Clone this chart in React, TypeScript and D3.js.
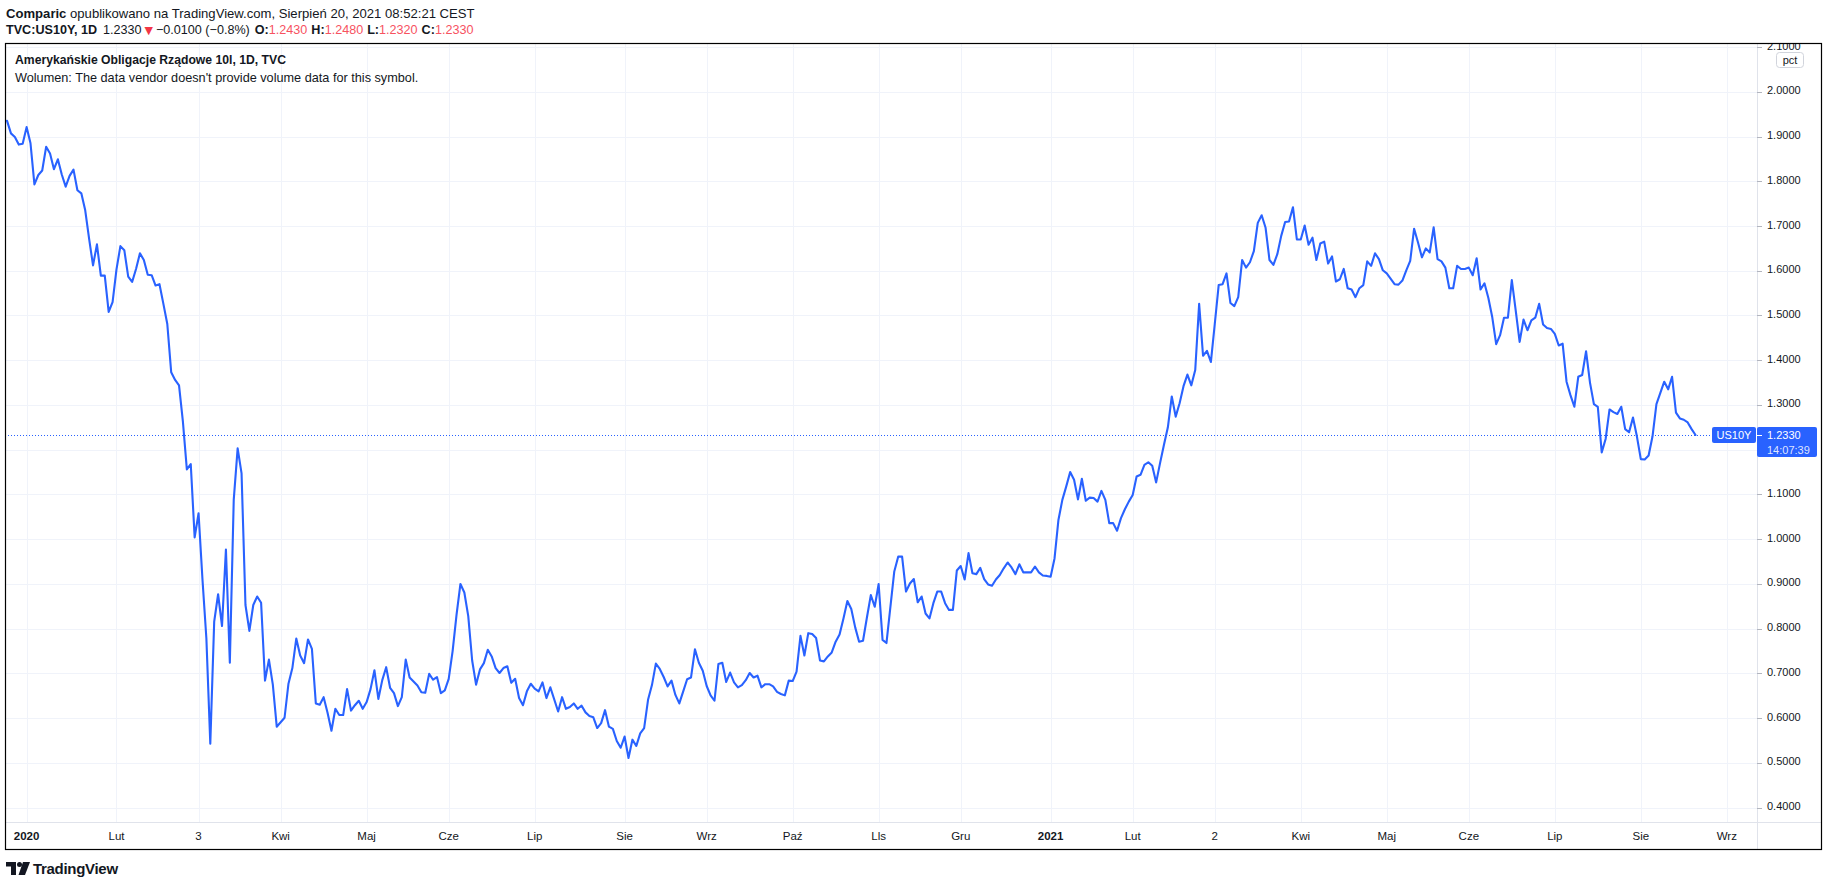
import React from 'react';
import * as d3 from 'd3';

// ---------- data ----------
// Session numbers count trading weekdays from Monday 23 Dec 2019 (session 0).
const FIRST_SESSION = '2019-12-23';

// [session, US10Y close in %]
const SERIES: [number, number][] = [
  [2, 1.935], [3, 1.907], [4, 1.899], [5, 1.882], [6, 1.884], [7, 1.921], [8, 1.885], [9, 1.793],
  [10, 1.814], [11, 1.824], [12, 1.877], [13, 1.862], [14, 1.827], [15, 1.849], [16, 1.815], [17, 1.788],
  [18, 1.812], [19, 1.826], [20, 1.78], [21, 1.773], [22, 1.735], [23, 1.671], [24, 1.612], [25, 1.659],
  [26, 1.589], [27, 1.589], [28, 1.508], [29, 1.53], [30, 1.603], [31, 1.655], [32, 1.646], [33, 1.587],
  [34, 1.575], [35, 1.604], [36, 1.639], [37, 1.624], [38, 1.591], [39, 1.59], [40, 1.567], [41, 1.57],
  [42, 1.526], [43, 1.481], [44, 1.373], [45, 1.356], [46, 1.344], [47, 1.262], [48, 1.156], [49, 1.168],
  [50, 1.004], [51, 1.058], [52, 0.91], [53, 0.778], [54, 0.543], [55, 0.816], [56, 0.877], [57, 0.806],
  [58, 0.977], [59, 0.724], [60, 1.088], [61, 1.203], [62, 1.147], [63, 0.853], [64, 0.795], [65, 0.853],
  [66, 0.872], [67, 0.858], [68, 0.684], [69, 0.731], [70, 0.675], [71, 0.581], [73, 0.601], [74, 0.677],
  [75, 0.712], [76, 0.778], [77, 0.74], [78, 0.723], [79, 0.776], [80, 0.755], [81, 0.633], [82, 0.63],
  [83, 0.647], [84, 0.612], [85, 0.572], [86, 0.621], [87, 0.607], [88, 0.607], [89, 0.665], [90, 0.617],
  [91, 0.629], [92, 0.639], [93, 0.621], [94, 0.636], [95, 0.665], [96, 0.707], [97, 0.643], [98, 0.685],
  [99, 0.714], [100, 0.668], [101, 0.656], [102, 0.627], [103, 0.647], [104, 0.731], [105, 0.691], [106, 0.682],
  [107, 0.673], [108, 0.658], [109, 0.657], [110, 0.699], [111, 0.686], [112, 0.692], [113, 0.656], [114, 0.662],
  [115, 0.688], [116, 0.75], [117, 0.831], [118, 0.9], [119, 0.881], [120, 0.828], [121, 0.729], [122, 0.675],
  [123, 0.709], [124, 0.723], [125, 0.753], [126, 0.738], [127, 0.712], [128, 0.701], [129, 0.712], [130, 0.716],
  [131, 0.679], [132, 0.688], [133, 0.645], [134, 0.629], [135, 0.66], [136, 0.677], [137, 0.666], [138, 0.66],
  [139, 0.68], [140, 0.645], [141, 0.669], [143, 0.615], [144, 0.647], [145, 0.621], [146, 0.625], [147, 0.633],
  [148, 0.621], [149, 0.628], [150, 0.613], [151, 0.605], [152, 0.602], [153, 0.578], [154, 0.589], [155, 0.618],
  [156, 0.581], [157, 0.576], [158, 0.549], [159, 0.534], [160, 0.559], [161, 0.511], [162, 0.552], [163, 0.538],
  [164, 0.566], [165, 0.578], [166, 0.641], [167, 0.674], [168, 0.722], [169, 0.71], [170, 0.692], [171, 0.671],
  [172, 0.684], [173, 0.652], [174, 0.633], [175, 0.66], [176, 0.687], [177, 0.691], [178, 0.754], [179, 0.724],
  [180, 0.706], [181, 0.672], [182, 0.651], [183, 0.639], [184, 0.721], [185, 0.724], [186, 0.681], [187, 0.702],
  [188, 0.68], [189, 0.669], [190, 0.674], [191, 0.685], [192, 0.701], [193, 0.691], [194, 0.695], [195, 0.669],
  [196, 0.676], [197, 0.676], [198, 0.671], [199, 0.659], [200, 0.654], [201, 0.651], [202, 0.684], [203, 0.683],
  [204, 0.704], [205, 0.784], [206, 0.74], [207, 0.79], [208, 0.788], [209, 0.779], [210, 0.729], [211, 0.727],
  [212, 0.738], [213, 0.747], [214, 0.771], [215, 0.787], [216, 0.823], [217, 0.862], [218, 0.844], [219, 0.803],
  [220, 0.771], [221, 0.773], [222, 0.825], [223, 0.875], [224, 0.849], [225, 0.9], [226, 0.775], [227, 0.768],
  [229, 0.928], [230, 0.961], [231, 0.961], [232, 0.883], [233, 0.901], [234, 0.911], [235, 0.859], [236, 0.872],
  [237, 0.834], [238, 0.823], [239, 0.857], [240, 0.883], [241, 0.883], [242, 0.857], [243, 0.842], [244, 0.842],
  [245, 0.93], [246, 0.94], [247, 0.91], [248, 0.969], [249, 0.924], [250, 0.922], [251, 0.936], [252, 0.911],
  [253, 0.899], [254, 0.896], [255, 0.91], [256, 0.92], [257, 0.935], [258, 0.948], [259, 0.937], [260, 0.922],
  [261, 0.944], [262, 0.926], [263, 0.926], [264, 0.926], [265, 0.939], [266, 0.926], [267, 0.919], [268, 0.918],
  [269, 0.916], [270, 0.957], [271, 1.043], [272, 1.088], [273, 1.118], [274, 1.15], [275, 1.133], [276, 1.089],
  [277, 1.135], [278, 1.086], [279, 1.093], [280, 1.092], [281, 1.084], [282, 1.108], [283, 1.088], [284, 1.036],
  [285, 1.036], [286, 1.019], [287, 1.047], [288, 1.067], [289, 1.084], [290, 1.099], [291, 1.14], [292, 1.144],
  [293, 1.166], [294, 1.172], [295, 1.164], [296, 1.127], [297, 1.17], [298, 1.211], [299, 1.25], [300, 1.319],
  [301, 1.274], [302, 1.304], [303, 1.342], [304, 1.368], [305, 1.344], [306, 1.378], [307, 1.526], [308, 1.41],
  [309, 1.421], [310, 1.396], [311, 1.481], [312, 1.568], [313, 1.57], [314, 1.594], [315, 1.528], [316, 1.521],
  [317, 1.541], [318, 1.624], [319, 1.607], [320, 1.619], [321, 1.644], [322, 1.707], [323, 1.724], [324, 1.696],
  [325, 1.624], [326, 1.613], [327, 1.637], [328, 1.678], [329, 1.709], [330, 1.71], [331, 1.742], [332, 1.67],
  [333, 1.67], [334, 1.701], [335, 1.658], [336, 1.674], [337, 1.624], [338, 1.661], [339, 1.665], [340, 1.616],
  [341, 1.632], [342, 1.576], [343, 1.581], [344, 1.604], [345, 1.561], [346, 1.558], [347, 1.541], [348, 1.561],
  [349, 1.568], [350, 1.621], [351, 1.611], [352, 1.639], [353, 1.626], [354, 1.601], [355, 1.594], [357, 1.57],
  [358, 1.569], [359, 1.578], [360, 1.601], [361, 1.622], [362, 1.694], [363, 1.663], [364, 1.63], [365, 1.65],
  [366, 1.641], [367, 1.697], [368, 1.626], [369, 1.621], [370, 1.607], [371, 1.561], [372, 1.561], [373, 1.611],
  [374, 1.604], [375, 1.604], [376, 1.607], [377, 1.59], [378, 1.628], [379, 1.558], [380, 1.572], [381, 1.539],
  [382, 1.496], [383, 1.436], [384, 1.456], [385, 1.495], [386, 1.495], [387, 1.579], [388, 1.511], [389, 1.441],
  [390, 1.491], [391, 1.467], [392, 1.489], [393, 1.495], [394, 1.526], [395, 1.48], [396, 1.472], [397, 1.47],
  [398, 1.459], [399, 1.433], [400, 1.437], [401, 1.352], [402, 1.322], [403, 1.296], [404, 1.363], [405, 1.367],
  [406, 1.42], [407, 1.35], [408, 1.302], [409, 1.296], [410, 1.194], [411, 1.224], [412, 1.29], [413, 1.284],
  [414, 1.28], [415, 1.296], [416, 1.246], [417, 1.239], [418, 1.272], [419, 1.23], [420, 1.179], [421, 1.178],
  [422, 1.187], [423, 1.23], [424, 1.302], [425, 1.327], [426, 1.352], [427, 1.335], [428, 1.363], [429, 1.283],
  [430, 1.27], [431, 1.267], [432, 1.261], [433, 1.246], [434, 1.233],
];

const PRICE_TICKS = [0.4, 0.5, 0.6, 0.7, 0.8, 0.9, 1.0, 1.1, 1.2, 1.3, 1.4, 1.5, 1.6, 1.7, 1.8, 1.9, 2.0, 2.1];

const TIME_TICK_DATES = [
  '2020-01-01', '2020-02-01', '2020-03-03', '2020-04-01', '2020-05-01', '2020-06-01', '2020-07-01',
  '2020-08-01', '2020-09-01', '2020-10-01', '2020-11-01', '2020-12-01', '2021-01-01', '2021-02-01',
  '2021-03-02', '2021-04-01', '2021-05-01', '2021-06-01', '2021-07-01', '2021-08-01', '2021-09-01',
];
const TIME_TICK_LABELS = [
  '2020', 'Lut', '3', 'Kwi', 'Maj', 'Cze', 'Lip', 'Sie', 'Wrz', 'Paź', 'Lls', 'Gru',
  '2021', 'Lut', '2', 'Kwi', 'Maj', 'Cze', 'Lip', 'Sie', 'Wrz',
];

const LAST_VALUE = 1.233;
const SYMBOL = 'US10Y';
const COUNTDOWN = '14:07:39';
const HEADER_AUTHOR = 'Comparic';
const HEADER_REST = ' opublikowano na TradingView.com, Sierpień 20, 2021 08:52:21 CEST';
const LEGEND_TITLE = 'Amerykańskie Obligacje Rządowe 10l, 1D, TVC';
const LEGEND_VOLUME = "Wolumen: The data vendor doesn't provide volume data for this symbol.";
const OHLC: [string, string][] = [['O:', '1.2430'], ['H:', '1.2480'], ['L:', '1.2320'], ['C:', '1.2330']];

// ---------- helpers ----------
function sessionDates(count: number): Date[] {
  const out: Date[] = [];
  const d = new Date(FIRST_SESSION + 'T00:00:00Z');
  while (out.length < count) {
    const wd = d.getUTCDay();
    if (wd !== 0 && wd !== 6) out.push(new Date(d.getTime()));
    d.setUTCDate(d.getUTCDate() + 1);
  }
  return out;
}

const FONT = '"Liberation Sans", Arial, sans-serif';
const TEXT = '#131722';
const BLUE = '#2962FF';
const RED = '#f23645';
const GRID = '#f0f3fa';
const BORDER_LIGHT = '#e0e3eb';

export default function App() {
  const W = 1828;
  const H = 887;
  const left = 5;
  const top = 43;
  const plotRight = 1757;
  const plotBottom = 822;
  const frameRight = 1822;
  const frameBottom = 850;

  const x = d3.scaleLinear().domain([8, 420]).range([30.5, 1640.8]);
  const y = d3.scaleLinear().domain([0.368, 2.109]).range([plotBottom, top]);

  const dates = sessionDates(470);
  const tickSessions = TIME_TICK_DATES.map((s) => {
    const t = new Date(s + 'T00:00:00Z').getTime();
    return dates.findIndex((d) => d.getTime() >= t);
  });

  const linePath = d3
    .line<[number, number]>()
    .x((d) => x(d[0]))
    .y((d) => y(d[1]))(SERIES) || '';

  const yLast = y(LAST_VALUE);

  return (
    <svg
      width={W}
      height={H}
      style={{ position: 'absolute', left: 0, top: 0, background: '#fff' }}
      fontFamily={FONT}
    >
      <defs>
        <clipPath id="plotClip">
          <rect x={left} y={top} width={plotRight - left} height={plotBottom - top} />
        </clipPath>
        <clipPath id="axisClip">
          <rect x={plotRight} y={top} width={frameRight - plotRight} height={plotBottom - top} />
        </clipPath>
      </defs>
      <rect x={0} y={0} width={W} height={H} fill="#fff" />

      {/* header */}
      <text x={6} y={18} fontSize={13.1} fill={TEXT}>
        <tspan fontWeight={700}>{HEADER_AUTHOR}</tspan>
        <tspan>{HEADER_REST}</tspan>
      </text>
      <text x={6} y={34} fontSize={12.6} fill={TEXT}>
        <tspan fontWeight={700}>TVC:US10Y, 1D</tspan>
        <tspan dx={6}>{LAST_VALUE.toFixed(4)}</tspan>
        <tspan dx={3} fill={RED} fontFamily='"DejaVu Sans", sans-serif' fontSize={11}>▼</tspan>
        <tspan dx={3}>−0.0100 (−0.8%)</tspan>
        {OHLC.map(([k, v], i) => (
          <React.Fragment key={k}>
            <tspan dx={i === 0 ? 5 : 4} fontWeight={700}>{k}</tspan>
            <tspan fill="#f7525f">{v}</tspan>
          </React.Fragment>
        ))}
      </text>

      {/* grid */}
      <g clipPath="url(#plotClip)">
        {PRICE_TICKS.map((v) => (
          <line key={'h' + v} x1={left} x2={plotRight} y1={Math.round(y(v)) + 0.5} y2={Math.round(y(v)) + 0.5} stroke={GRID} />
        ))}
        {tickSessions.map((s, i) => (
          <line key={'v' + i} x1={Math.round(x(s)) + 0.5} x2={Math.round(x(s)) + 0.5} y1={top} y2={plotBottom} stroke={GRID} />
        ))}
      </g>

      {/* legend */}
      <text x={15} y={64} fontSize={12.2} fontWeight={700} fill={TEXT}>{LEGEND_TITLE}</text>
      <text x={15} y={81.5} fontSize={12.7} fill={TEXT}>{LEGEND_VOLUME}</text>

      {/* series */}
      <g clipPath="url(#plotClip)">
        <line x1={left} x2={1712} y1={Math.round(yLast) + 0.5} y2={Math.round(yLast) + 0.5} stroke={BLUE} strokeWidth={1} strokeDasharray="1 2" />
        <path d={linePath} fill="none" stroke={BLUE} strokeWidth={2.1} strokeLinejoin="round" strokeLinecap="round" />
      </g>

      {/* separators */}
      <line x1={plotRight + 0.5} x2={plotRight + 0.5} y1={top} y2={frameBottom} stroke={BORDER_LIGHT} />
      <line x1={left} x2={frameRight} y1={plotBottom + 0.5} y2={plotBottom + 0.5} stroke={BORDER_LIGHT} />

      {/* price axis */}
      <g clipPath="url(#axisClip)">
        {PRICE_TICKS.map((v) => (
          <g key={'yl' + v}>
            <line x1={plotRight} x2={plotRight + 5} y1={Math.round(y(v)) + 0.5} y2={Math.round(y(v)) + 0.5} stroke="#b2b5be" />
            {Math.abs(y(v) - yLast) > 24 && (
              <text x={1767} y={y(v) + 2.5} fontSize={11} fill={TEXT}>{v.toFixed(4)}</text>
            )}
          </g>
        ))}
      </g>
      <rect x={1776.5} y={52.5} width={27} height={15} rx={3} fill="#fff" stroke="#d1d4dc" />
      <text x={1790} y={63.5} fontSize={11} fill={TEXT} textAnchor="middle">pct</text>

      {/* last price labels */}
      <rect x={1712} y={427} width={44} height={16} rx={2} fill={BLUE} />
      <text x={1734} y={439} fontSize={11} fill="#fff" textAnchor="middle">{SYMBOL}</text>
      <rect x={plotRight} y={427} width={60} height={30} rx={2} fill={BLUE} />
      <line x1={plotRight} x2={plotRight + 5} y1={Math.round(yLast) + 0.5} y2={Math.round(yLast) + 0.5} stroke="#fff" />
      <text x={1767} y={439} fontSize={11} fill="#fff">{LAST_VALUE.toFixed(4)}</text>
      <text x={1767} y={454} fontSize={11} fill="rgba(255,255,255,0.85)">{COUNTDOWN}</text>

      {/* time axis */}
      {tickSessions.map((s, i) => {
        const label = TIME_TICK_LABELS[i];
        const xx = x(s);
        if (xx > plotRight - 10) return null;
        const isYear = /^\d{4}$/.test(label);
        return (
          <text key={'xl' + i} x={xx} y={840} fontSize={11.5} fill={TEXT} textAnchor="middle" fontWeight={isYear ? 700 : 400}>
            {label}
          </text>
        );
      })}

      {/* frame */}
      <rect x={left + 0.5} y={top + 0.5} width={frameRight - left - 1} height={frameBottom - top - 1} fill="none" stroke="#000" strokeWidth={1.2} />

      {/* logo */}
      <g fill={TEXT}>
        <path d="M6 862 H16 V875 H11 V866.5 H6 Z" />
        <circle cx={19.5} cy={864.5} r={2.5} />
        <path d="M23 862 H30 L25 875 H18.5 Z" />
        <text x={33} y={873.5} fontSize={15} fontWeight={700} letterSpacing={-0.3}>TradingView</text>
      </g>
    </svg>
  );
}
